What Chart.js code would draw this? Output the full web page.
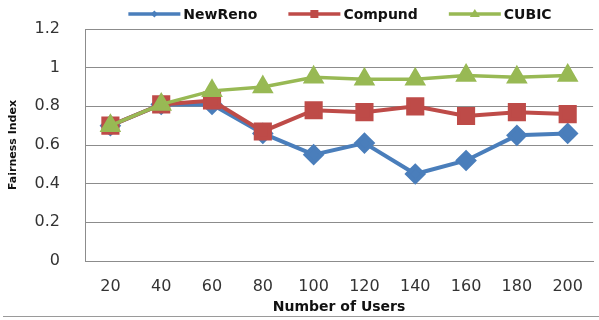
<!DOCTYPE html>
<html>
<head>
<meta charset="utf-8">
<script src="https://cdn.jsdelivr.net/npm/chart.js@4.4.1/dist/chart.umd.min.js"></script>
<style>
  body { margin: 0; background: #fff; }
  #wrap { width: 599px; height: 320px; }
</style>
</head>
<body>
<div id="wrap"><canvas id="fairness" width="599" height="320"></canvas></div>
<script>
const users = ['20', '40', '60', '80', '100', '120', '140', '160', '180', '200'];
const newReno = [0.70, 0.81, 0.81, 0.66, 0.55, 0.61, 0.45, 0.52, 0.65, 0.66];
const compund = [0.70, 0.81, 0.83, 0.67, 0.78, 0.77, 0.80, 0.75, 0.77, 0.76];
const cubic = [0.70, 0.81, 0.88, 0.90, 0.95, 0.94, 0.94, 0.96, 0.95, 0.96];
const yTicks = [0, 0.2, 0.4, 0.6, 0.8, 1, 1.2];

const blue = '#4A7EBB';
const red = '#BE4B48';
const green = '#98B954';
const gridGray = '#8c8c8c';

// line + small marker legend, drawn above the plot
const legendPlugin = {
  id: 'lineLegend',
  afterDraw(chart) {
    const ctx = chart.ctx;
    const sets = chart.data.datasets;
    ctx.save();
    ctx.font = 'bold 14px "DejaVu Sans"';
    const lineW = 52, gap = 3, spacing = 31;
    let total = 0;
    sets.forEach((ds, i) => {
      total += lineW + gap + ctx.measureText(ds.label).width;
      if (i < sets.length - 1) total += spacing;
    });
    let x = 340 - total / 2;
    const y = 14;
    sets.forEach(ds => {
      ctx.strokeStyle = ds.borderColor;
      ctx.fillStyle = ds.borderColor;
      ctx.lineWidth = 3.5;
      ctx.beginPath();
      ctx.moveTo(x, y);
      ctx.lineTo(x + lineW, y);
      ctx.stroke();
      const cx = x + lineW / 2;
      ctx.beginPath();
      if (ds.pointStyle === 'rect') {
        ctx.rect(cx - 4, y - 4, 8, 8);
      } else if (ds.pointStyle === 'triangle') {
        ctx.moveTo(cx, y - 5);
        ctx.lineTo(cx + 5, y + 3);
        ctx.lineTo(cx - 5, y + 3);
        ctx.closePath();
      } else {
        ctx.moveTo(cx, y - 3.5);
        ctx.lineTo(cx + 3.5, y);
        ctx.lineTo(cx, y + 3.5);
        ctx.lineTo(cx - 3.5, y);
        ctx.closePath();
      }
      ctx.fill();
      ctx.fillStyle = '#111';
      ctx.textBaseline = 'middle';
      ctx.fillText(ds.label, x + lineW + gap, y + 1);
      x += lineW + gap + ctx.measureText(ds.label).width + spacing;
    });
    // outer frame line at the bottom
    ctx.strokeStyle = '#9a9a9a';
    ctx.lineWidth = 1;
    ctx.beginPath();
    ctx.moveTo(3, 316.5);
    ctx.lineTo(599, 316.5);
    ctx.stroke();
    ctx.restore();
  }
};

const data = {
  labels: users,
  datasets: [
    {
      label: 'NewReno',
      data: newReno,
      borderColor: blue,
      backgroundColor: blue,
      pointStyle: 'rectRot',
      pointRadius: 8,
      borderWidth: 4,
      order: 3
    },
    {
      label: 'Compund',
      data: compund,
      borderColor: red,
      backgroundColor: red,
      pointStyle: 'rect',
      pointRadius: 10,
      borderWidth: 4,
      order: 2
    },
    {
      label: 'CUBIC',
      data: cubic,
      borderColor: green,
      backgroundColor: green,
      pointStyle: 'triangle',
      pointRadius: 9,
      borderWidth: 3.5,
      order: 1
    }
  ]
};

const config = {
  type: 'line',
  data: data,
  plugins: [legendPlugin],
  options: {
    responsive: false,
    animation: false,
    layout: { autoPadding: false, padding: { top: 29, left: 2, right: 1, bottom: 4 } },
    elements: {
      line: { tension: 0 },
      point: { borderWidth: 1, hoverRadius: 9 }
    },
    plugins: {
      legend: { display: false },
      tooltip: { enabled: false }
    },
    scales: {
      x: {
        offset: true,
        afterFit: axis => { axis.height = 55; },
        grid: { display: false, drawTicks: false },
        border: { display: true, color: gridGray },
        ticks: {
          padding: 16,
          color: '#333',
          font: { family: 'DejaVu Sans', size: 16 }
        },
        title: {
          display: true,
          text: 'Number of Users',
          color: '#111',
          padding: { top: 2, bottom: 0 },
          font: { family: 'DejaVu Sans', size: 14, weight: 'bold' }
        }
      },
      y: {
        min: 0,
        max: 1.2,
        afterFit: axis => {
          axis.width = 83;
          axis.paddingTop = 0;
          axis.paddingBottom = 0;
        },
        afterBuildTicks: axis => {
          axis.ticks = yTicks.map(v => ({ value: v }));
        },
        grid: { color: gridGray, drawTicks: false },
        border: { display: true, color: gridGray },
        ticks: {
          padding: 25,
          color: '#333',
          font: { family: 'DejaVu Sans', size: 16 },
          callback: v => String(Number(v.toFixed(1)))
        },
        title: {
          display: true,
          text: 'Fairness Index',
          color: '#111',
          padding: { top: 5, bottom: 12 },
          font: { family: 'DejaVu Sans', size: 11, weight: 'bold' }
        }
      }
    }
  }
};

const fairnessChart = new Chart(document.getElementById('fairness'), config);
</script>
</body>
</html>
